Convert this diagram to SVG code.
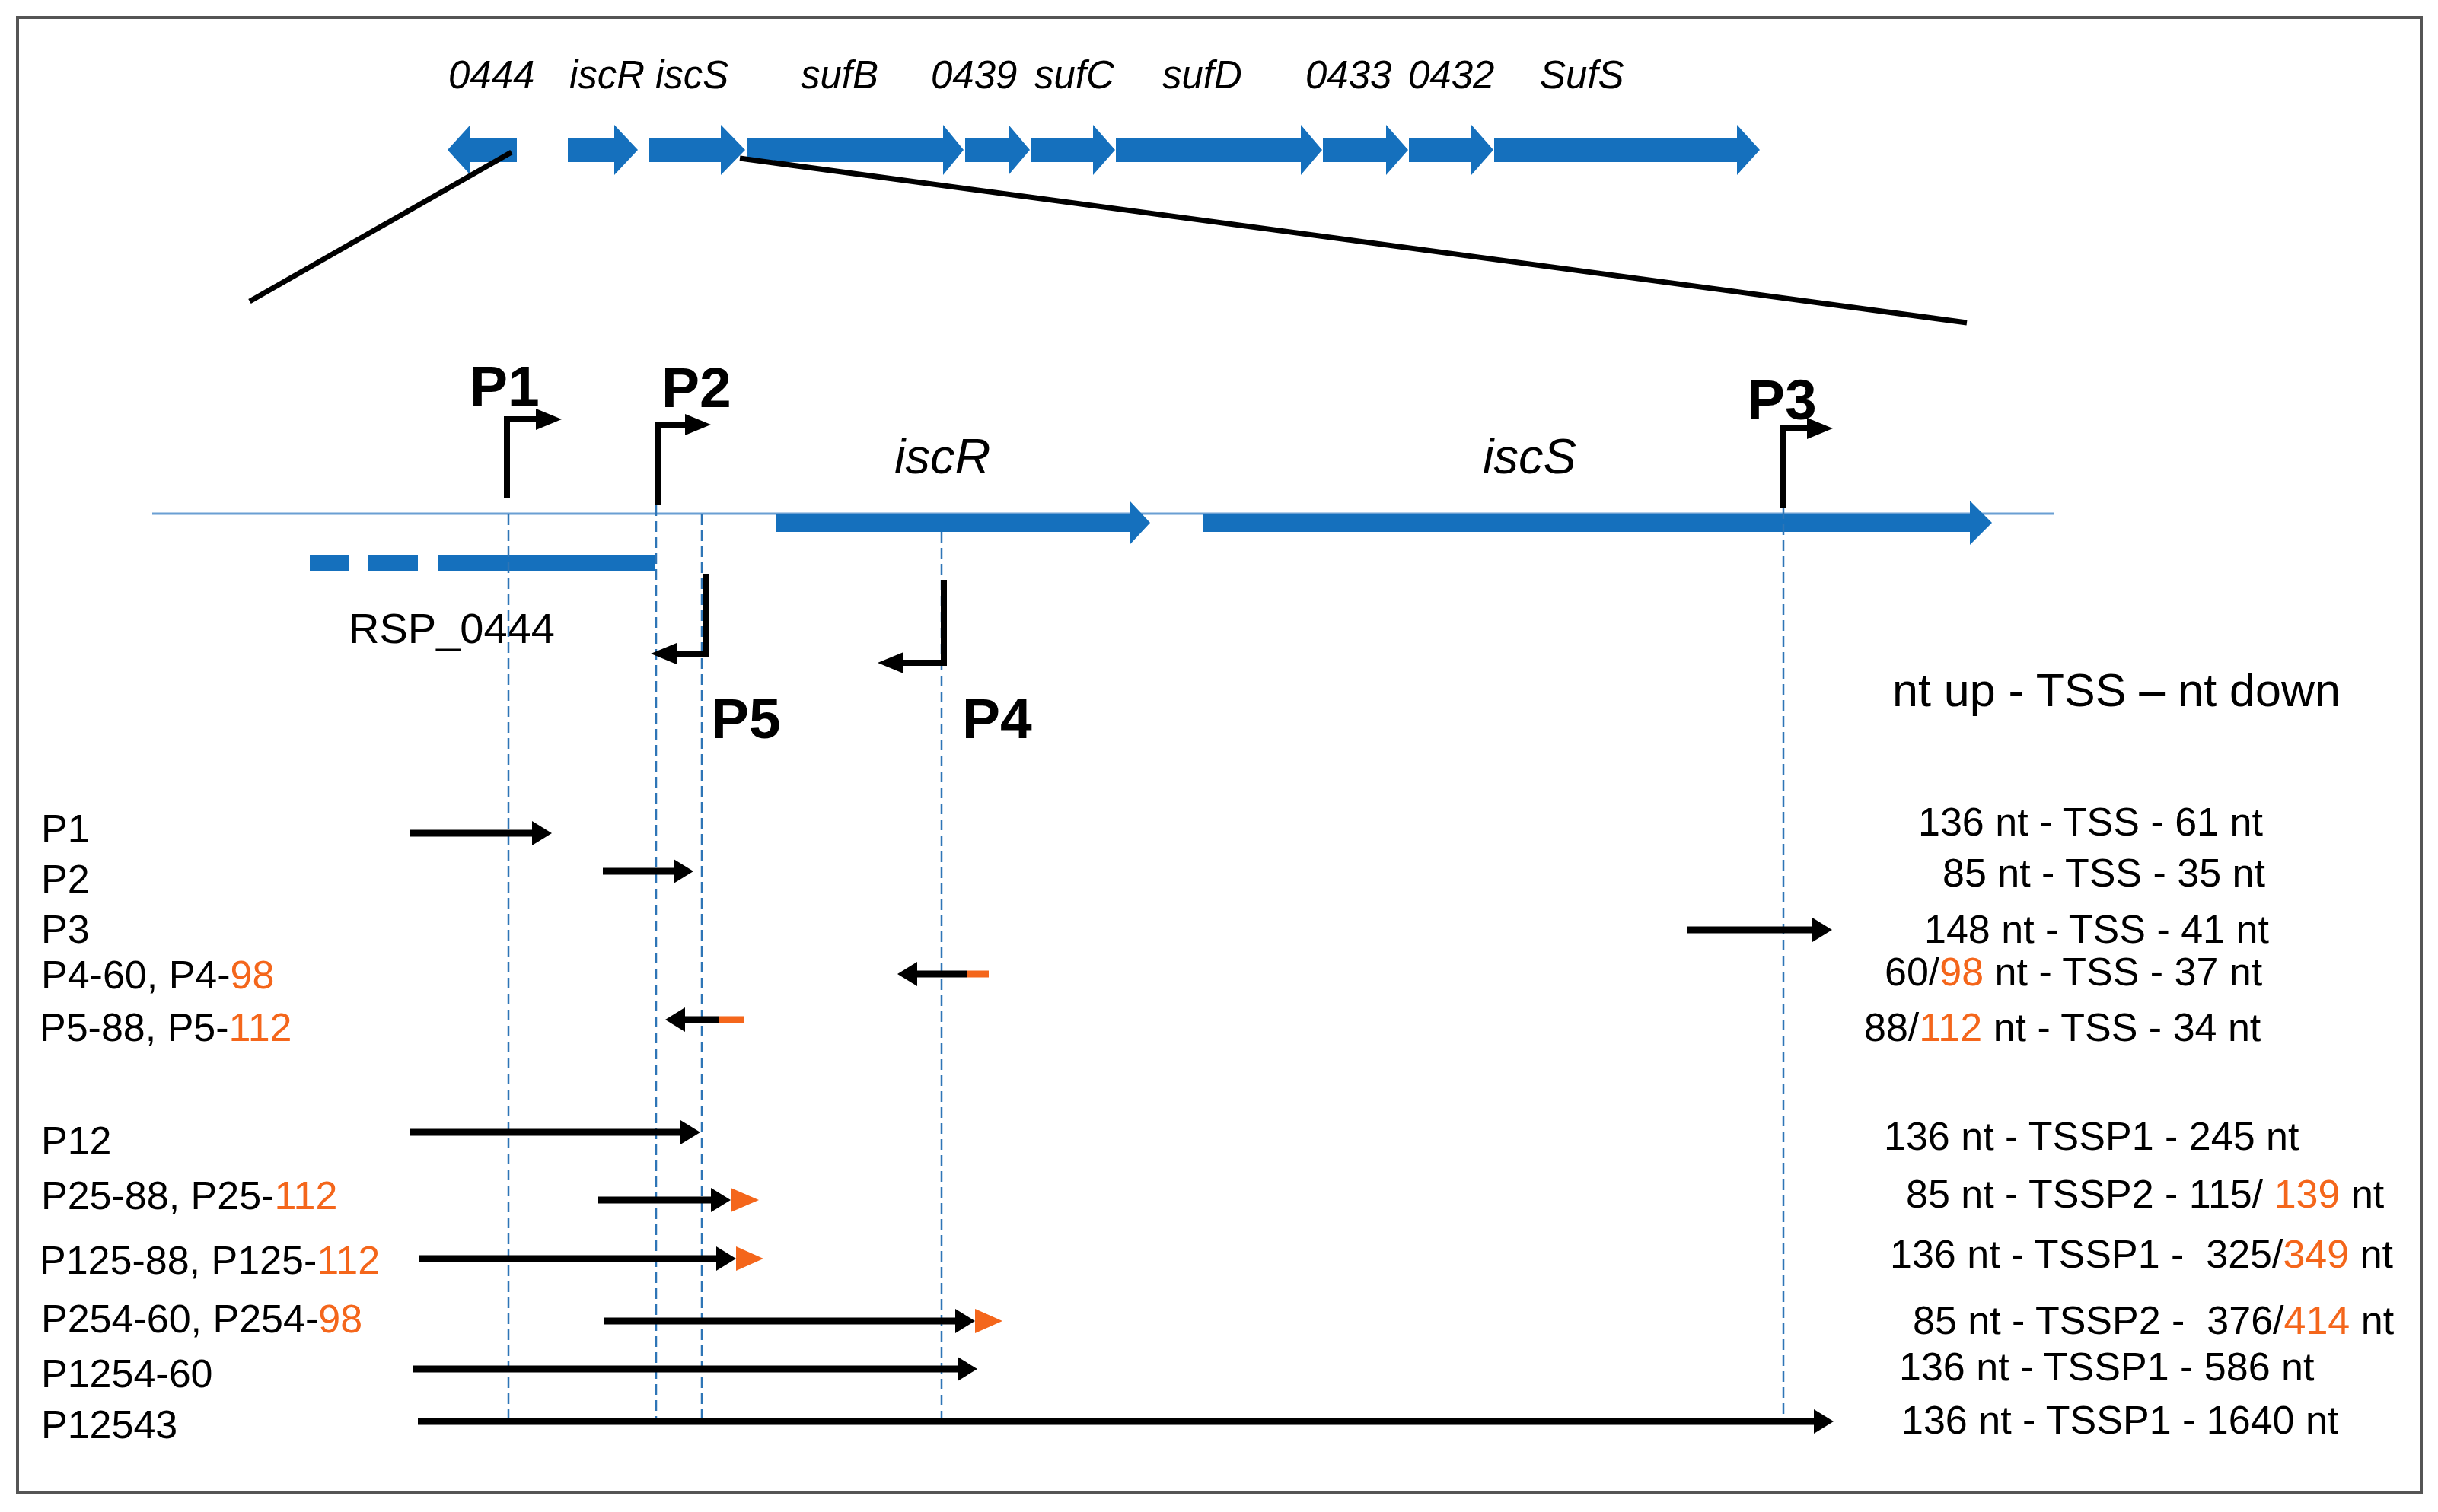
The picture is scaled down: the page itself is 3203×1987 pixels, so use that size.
<svg xmlns="http://www.w3.org/2000/svg" width="3203" height="1987" viewBox="0 0 3203 1987">
<style>
text{font-family:"Liberation Sans",Arial,sans-serif;fill:#000}
.gl{font-size:51px;font-style:italic}
.gm{font-size:65px;font-style:italic}
.pb{font-size:75px;font-weight:bold}
.lb{font-size:52px}
.o{fill:#F4661B}
.gene{fill:#1570BD}
.dash{stroke:#2E75B6;stroke-width:2.5;stroke-dasharray:14 7;fill:none}
.sh{stroke:#000;stroke-width:9;fill:none}
.pr{stroke:#000;stroke-width:8;fill:none}
.zoom{stroke:#000;stroke-width:7}
</style>
<defs>
<marker id="ah" markerUnits="userSpaceOnUse" markerWidth="26" markerHeight="32" refX="2" refY="16" orient="auto"><path d="M0,0 L26,16 L0,32 Z" fill="#000"/></marker>
<marker id="ph" markerUnits="userSpaceOnUse" markerWidth="34" markerHeight="28" refX="2" refY="14" orient="auto"><path d="M0,0 L34,14 L0,28 Z" fill="#000"/></marker>
</defs>
<rect x="0" y="0" width="3203" height="1987" fill="#fff"/>
<rect x="23" y="23" width="3158" height="1938" fill="none" stroke="#555" stroke-width="4"/>

<g id="operon">
<text class="gl" x="589" y="116">0444</text>
<text class="gl" x="748" y="116">iscR</text>
<text class="gl" x="861" y="116">iscS</text>
<text class="gl" x="1052" y="116">sufB</text>
<text class="gl" x="1223" y="116">0439</text>
<text class="gl" x="1359" y="116">sufC</text>
<text class="gl" x="1527" y="116">sufD</text>
<text class="gl" x="1715" y="116">0433</text>
<text class="gl" x="1850" y="116">0432</text>
<text class="gl" x="2023" y="116">SufS</text>
<path class="gene" d="M679,182 H618 V164 L588,197 L618,230 V213 H679 Z"/>
<path class="gene" d="M746,182 H807 V164 L838,197 L807,230 V213 H746 Z"/>
<path class="gene" d="M853,182 H947 V164 L979,197 L947,230 V213 H853 Z"/>
<path class="gene" d="M982,182 H1239 V164 L1266,197 L1239,230 V213 H982 Z"/>
<path class="gene" d="M1268,182 H1325 V164 L1353,197 L1325,230 V213 H1268 Z"/>
<path class="gene" d="M1355,182 H1436 V164 L1465,197 L1436,230 V213 H1355 Z"/>
<path class="gene" d="M1466,182 H1709 V164 L1737,197 L1709,230 V213 H1466 Z"/>
<path class="gene" d="M1738,182 H1821 V164 L1850,197 L1821,230 V213 H1738 Z"/>
<path class="gene" d="M1851,182 H1933 V164 L1962,197 L1933,230 V213 H1851 Z"/>
<path class="gene" d="M1963,182 H2282 V164 L2312,197 L2282,230 V213 H1963 Z"/>
</g>

<g id="zoom-lines">
<line class="zoom" x1="672" y1="200" x2="328" y2="396"/>
<line class="zoom" x1="972" y1="208" x2="2584" y2="424"/>
</g>

<g id="locus">
<line x1="200" y1="675" x2="2698" y2="675" stroke="#6A9FD3" stroke-width="3"/>
<path class="gene" d="M1020,675 H1484 V658 L1511,687 L1484,716 V699 H1020 Z"/>
<path class="gene" d="M1580,675 H2588 V658 L2617,687 L2588,716 V699 H1580 Z"/>
<rect class="gene" x="407" y="729" width="52" height="22"/>
<rect class="gene" x="483" y="729" width="66" height="22"/>
<rect class="gene" x="576" y="729" width="285" height="22"/>
<text class="gm" x="1175" y="622">iscR</text>
<text class="gm" x="1948" y="622">iscS</text>
<text x="458" y="845" style="font-size:56px">RSP_0444</text>
</g>

<g id="guides">
<line class="dash" x1="668" y1="676" x2="668" y2="1864"/>
<line class="dash" x1="862" y1="664" x2="862" y2="1864"/>
<line class="dash" x1="922" y1="676" x2="922" y2="1864"/>
<line class="dash" x1="1237" y1="699" x2="1237" y2="1864"/>
<line class="dash" x1="2343" y1="668" x2="2343" y2="1860"/>
</g>

<g id="promoters">
<path class="pr" d="M666,654 V551 H706" marker-end="url(#ph)"/>
<path class="pr" d="M865,664 V558 H902" marker-end="url(#ph)"/>
<path class="pr" d="M2343,668 V563 H2376" marker-end="url(#ph)"/>
<path class="pr" d="M927,754 V859 H887" marker-end="url(#ph)"/>
<path class="pr" d="M1240,762 V871 H1185" marker-end="url(#ph)"/>
<text class="pb" x="617" y="533">P1</text>
<text class="pb" x="869" y="535">P2</text>
<text class="pb" x="2295" y="551">P3</text>
<text class="pb" x="934" y="970">P5</text>
<text class="pb" x="1264" y="970">P4</text>
</g>

<g id="construct-labels">
<text class="lb" x="54" y="1107">P1</text>
<text class="lb" x="54" y="1173">P2</text>
<text class="lb" x="54" y="1239">P3</text>
<text class="lb" x="54" y="1299">P4-60, P4-<tspan class="o">98</tspan></text>
<text class="lb" x="52" y="1368">P5-88, P5-<tspan class="o">112</tspan></text>
<text class="lb" x="54" y="1517">P12</text>
<text class="lb" x="54" y="1589">P25-88, P25-<tspan class="o">112</tspan></text>
<text class="lb" x="52" y="1674">P125-88, P125-<tspan class="o">112</tspan></text>
<text class="lb" x="54" y="1751">P254-60, P254-<tspan class="o">98</tspan></text>
<text class="lb" x="54" y="1823">P1254-60</text>
<text class="lb" x="54" y="1890">P12543</text>
</g>

<g id="connectors">
<line class="sh" x1="538" y1="1095" x2="701" y2="1095" marker-end="url(#ah)"/>
<line class="sh" x1="792" y1="1145" x2="887" y2="1145" marker-end="url(#ah)"/>
<line class="sh" x1="2217" y1="1222" x2="2383" y2="1222" marker-end="url(#ah)"/>
<line class="sh" x1="1270" y1="1280" x2="1203" y2="1280" marker-end="url(#ah)"/>
<rect x="1270" y="1275.5" width="29" height="9" class="o"/>
<line class="sh" x1="944" y1="1340" x2="898" y2="1340" marker-end="url(#ah)"/>
<rect x="944" y="1335.5" width="34" height="9" class="o"/>
<line class="sh" x1="538" y1="1488" x2="896" y2="1488" marker-end="url(#ah)"/>
<line class="sh" x1="786" y1="1577" x2="936" y2="1577" marker-end="url(#ah)"/>
<path class="o" d="M960,1561 L997,1577 L960,1593 Z"/>
<line class="sh" x1="551" y1="1654" x2="943" y2="1654" marker-end="url(#ah)"/>
<path class="o" d="M967,1638 L1003,1654 L967,1670 Z"/>
<line class="sh" x1="793" y1="1736" x2="1257" y2="1736" marker-end="url(#ah)"/>
<path class="o" d="M1281,1720 L1317,1736 L1281,1752 Z"/>
<line class="sh" x1="543" y1="1799" x2="1260" y2="1799" marker-end="url(#ah)"/>
<line class="sh" x1="549" y1="1868" x2="2385" y2="1868" marker-end="url(#ah)"/>
</g>

<g id="lengths">
<text x="2486" y="928" style="font-size:61px">nt up - TSS – nt down</text>
<text class="lb" x="2520" y="1098">136 nt - TSS - 61 nt</text>
<text class="lb" x="2552" y="1165">85 nt - TSS - 35 nt</text>
<text class="lb" x="2528" y="1239">148 nt - TSS - 41 nt</text>
<text class="lb" x="2476" y="1295">60/<tspan class="o">98</tspan> nt - TSS - 37 nt</text>
<text class="lb" x="2449" y="1368">88/<tspan class="o">112</tspan> nt - TSS - 34 nt</text>
<text class="lb" x="2475" y="1511">136 nt - TSSP1 - 245 nt</text>
<text class="lb" x="2504" y="1587" style="white-space:pre">85 nt - TSSP2 - 115/ <tspan class="o">139</tspan> nt</text>
<text class="lb" x="2483" y="1666" style="white-space:pre">136 nt - TSSP1 -  325/<tspan class="o">349</tspan> nt</text>
<text class="lb" x="2513" y="1753" style="white-space:pre">85 nt - TSSP2 -  376/<tspan class="o">414</tspan> nt</text>
<text class="lb" x="2495" y="1814">136 nt - TSSP1 - 586 nt</text>
<text class="lb" x="2498" y="1884">136 nt - TSSP1 - 1640 nt</text>
</g>
</svg>
